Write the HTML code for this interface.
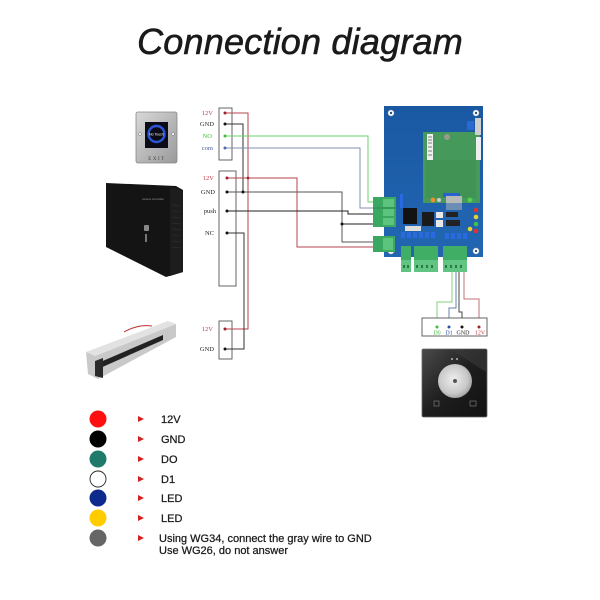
<!DOCTYPE html>
<html><head><meta charset="utf-8"><style>
html,body{margin:0;padding:0;background:#fff;}
svg{display:block;}
.t{font-family:"Liberation Serif",serif;font-size:6.5px;}
.lg{font-family:"Liberation Sans",sans-serif;font-size:11px;fill:#1a1a1a;stroke:#1a1a1a;stroke-width:0.25px;}
</style></head><body>
<svg width="600" height="600" viewBox="0 0 600 600" xmlns="http://www.w3.org/2000/svg">
<defs>
<linearGradient id="plate" x1="0" y1="0" x2="1" y2="1"><stop offset="0" stop-color="#d8d8d8"/><stop offset="1" stop-color="#9a9a9a"/></linearGradient>
<radialGradient id="pad" cx="0.45" cy="0.45" r="0.6"><stop offset="0" stop-color="#eeeeee"/><stop offset="0.7" stop-color="#c8c8c8"/><stop offset="1" stop-color="#9a9a9a"/></radialGradient>
<linearGradient id="rd" x1="0" y1="0" x2="1" y2="1"><stop offset="0" stop-color="#4a4a4a"/><stop offset="0.5" stop-color="#1e1e1e"/><stop offset="1" stop-color="#111"/></linearGradient>
<linearGradient id="bd" x1="0" y1="0" x2="0" y2="1"><stop offset="0" stop-color="#1a58a2"/><stop offset="1" stop-color="#2266b2"/></linearGradient>
</defs>

<!-- Title -->
<text x="300" y="54" text-anchor="middle" font-family="Liberation Sans, sans-serif" font-style="italic" font-size="36" fill="#1a1a1a" stroke="#1a1a1a" stroke-width="0.6" letter-spacing="0.2">Connection diagram</text>

<!-- Exit button -->
<rect x="136" y="112" width="41" height="51" rx="2" fill="url(#plate)" stroke="#888" stroke-width="0.8"/>
<rect x="145" y="122" width="23" height="26" fill="#0b0b18"/>
<circle cx="156.5" cy="134" r="8" fill="none" stroke="#2d55d8" stroke-width="2.4"/>
<text x="156.5" y="135.5" text-anchor="middle" font-family="Liberation Sans, sans-serif" font-size="3.5" fill="#fff">No Touch</text>
<circle cx="140" cy="134" r="1.5" fill="#eee" stroke="#777" stroke-width="0.5"/>
<circle cx="173" cy="134" r="1.5" fill="#eee" stroke="#777" stroke-width="0.5"/>
<text x="157" y="160" text-anchor="middle" font-family="Liberation Serif, serif" font-size="5" fill="#444" letter-spacing="1.5">EXIT</text>

<!-- Power box -->
<polygon points="106,183 176,186 183,190 183,272 166,277 106,247" fill="#141414"/>
<polygon points="170,187 183,190 183,272 170,276" fill="#1d1d1d"/>
<g stroke="#2c2c2c" stroke-width="0.8">
<line x1="172" y1="205" x2="181" y2="206"/><line x1="172" y1="211" x2="181" y2="212"/><line x1="172" y1="217" x2="181" y2="218"/><line x1="172" y1="223" x2="181" y2="224"/><line x1="172" y1="229" x2="181" y2="230"/><line x1="172" y1="235" x2="181" y2="236"/><line x1="172" y1="241" x2="181" y2="242"/><line x1="172" y1="247" x2="181" y2="248"/>
</g>
<text x="142" y="200" font-family="Liberation Sans, sans-serif" font-size="2.8" fill="#999">Access Controller</text>
<rect x="144" y="225" width="5" height="6" rx="1" fill="#888"/>
<rect x="145" y="234" width="2" height="8" fill="#777"/>

<!-- Magnetic lock -->
<polygon points="86,352 168,321 176,324 95,356" fill="#e2e2e2"/>
<polygon points="86,352 95,356 176,324 176,337 98,379 88,374" fill="#c9c9c9"/>
<polygon points="98,363 163,335 163,340 98,369" fill="#222"/>
<polygon points="95,361 103,358 103,378 95,376" fill="#2a2a2a"/>
<path d="M124,332 Q138,324 152,326" stroke="#c03030" stroke-width="1" fill="none"/>

<!-- Terminal boxes left -->
<rect x="219" y="108" width="13" height="52" fill="#fff" stroke="#555" stroke-width="0.9"/>
<rect x="219" y="171" width="17" height="115" fill="#fff" stroke="#555" stroke-width="0.9"/>
<rect x="219" y="321" width="13" height="38" fill="#fff" stroke="#555" stroke-width="0.9"/>

<g class="t" text-anchor="end">
<text x="213" y="115" fill="#c0404a">12V</text>
<text x="214" y="126" fill="#222">GND</text>
<text x="212" y="138" fill="#3cc03c">NO</text>
<text x="213" y="150" fill="#4a5a9a">com</text>
<text x="214" y="180" fill="#c0404a">12V</text>
<text x="215" y="194" fill="#222">GND</text>
<text x="216" y="213" fill="#222">push</text>
<text x="214" y="235" fill="#222">NC</text>
<text x="213" y="331" fill="#c0404a">12V</text>
<text x="214" y="351" fill="#222">GND</text>
</g>

<!-- Wires -->
<g fill="none" stroke-width="1">
<path d="M225,113 H248 V329 H225" stroke="#b8434c"/>
<path d="M225,124 H243 V192" stroke="#333"/>
<path d="M225,136 H368 V202 H378" stroke="#6ad06a"/>
<path d="M225,148 H360 V208 H378" stroke="#8090b0"/>
<path d="M227,178 H297 V247 H378" stroke="#b8434c"/>
<path d="M227,192 H342 V242 H378" stroke="#555"/>
<path d="M342,224 H378" stroke="#222"/>
<path d="M227,211 H348 V214 H378" stroke="#222"/>
<path d="M227,233 H244 V349 H225" stroke="#333"/>
<path d="M452,272 V302 H437 V327" stroke="#7fd07f"/>
<path d="M456,272 V308 H449 V327" stroke="#6b7fb0"/>
<path d="M459,272 V312 H462 V327" stroke="#444"/>
<path d="M464,272 V299 H479 V327" stroke="#c07078"/>
</g>
<g>
<circle cx="225" cy="113" r="1.5" fill="#a0202a"/>
<circle cx="225" cy="124" r="1.5" fill="#111"/>
<circle cx="225" cy="136" r="1.5" fill="#3cc03c"/>
<circle cx="225" cy="148" r="1.5" fill="#4a6aaa"/>
<circle cx="227" cy="178" r="1.5" fill="#a0202a"/>
<circle cx="227" cy="192" r="1.5" fill="#111"/>
<circle cx="227" cy="211" r="1.5" fill="#111"/>
<circle cx="227" cy="233" r="1.5" fill="#111"/>
<circle cx="225" cy="329" r="1.5" fill="#a0202a"/>
<circle cx="225" cy="349" r="1.5" fill="#111"/>
<circle cx="248" cy="178" r="1.4" fill="#a0202a"/>
<circle cx="243" cy="192" r="1.5" fill="#111"/>
<circle cx="342" cy="224" r="1.5" fill="#111"/>
</g>

<!-- Controller board -->
<rect x="384" y="106" width="99" height="151" fill="url(#bd)"/>
<rect x="423" y="132" width="57" height="71" fill="#45995a"/>
<rect x="426" y="160" width="50" height="38" fill="#3f8e52" opacity="0.7"/>
<rect x="427" y="134" width="6" height="26" fill="#eee"/>
<g stroke="#333" stroke-width="0.6"><line x1="428" y1="137" x2="432" y2="137"/><line x1="428" y1="140" x2="432" y2="140"/><line x1="428" y1="143" x2="432" y2="143"/><line x1="428" y1="147" x2="432" y2="147"/><line x1="428" y1="151" x2="432" y2="151"/><line x1="428" y1="155" x2="432" y2="155"/></g>
<rect x="476" y="137" width="5" height="23" fill="#eee"/>
<circle cx="447" cy="137" r="3" fill="#9a9a8a"/>
<rect x="467" y="121" width="7" height="9" fill="#2a6ad0"/>
<rect x="475" y="118" width="6" height="17" fill="#cfcfcf"/>
<rect x="443" y="193" width="17" height="4" fill="#2a62d0"/>
<rect x="446" y="196" width="16" height="14" fill="#b8b8b8"/>
<circle cx="433" cy="200" r="2.5" fill="#e89030"/>
<circle cx="439" cy="200" r="2" fill="#ccc"/>
<circle cx="470" cy="200" r="2.5" fill="#4ed04e"/>
<rect x="384" y="203" width="99" height="54" fill="#2164b0" opacity="0.5"/>
<rect x="400" y="194" width="3" height="14" fill="#2a6ae0"/>
<rect x="403" y="208" width="14" height="16" fill="#121212"/>
<rect x="422" y="212" width="12" height="14" fill="#1a1a1a"/>
<rect x="436" y="212" width="7" height="6" fill="#e8e8e8"/>
<rect x="436" y="220" width="7" height="7" fill="#e8e8e8"/>
<rect x="446" y="212" width="12" height="5" fill="#222"/>
<rect x="446" y="220" width="14" height="6" fill="#222"/>
<rect x="405" y="226" width="16" height="5" fill="#ddd"/>
<g fill="#2a6ae0">
<rect x="401" y="232" width="4" height="6"/><rect x="407" y="232" width="4" height="6"/><rect x="413" y="232" width="4" height="6"/><rect x="419" y="232" width="4" height="6"/><rect x="425" y="232" width="4" height="6"/><rect x="431" y="232" width="4" height="6"/>
<rect x="445" y="233" width="4" height="6"/><rect x="451" y="233" width="4" height="6"/><rect x="457" y="233" width="4" height="6"/><rect x="463" y="233" width="4" height="6"/>
</g>
<circle cx="476" cy="210" r="2.3" fill="#e03030"/>
<circle cx="476" cy="217" r="2.3" fill="#e8d030"/>
<circle cx="476" cy="224" r="2.3" fill="#40c050"/>
<circle cx="470" cy="229" r="2.3" fill="#e8d030"/>
<circle cx="476" cy="231" r="2.3" fill="#e03030"/>
<g fill="#fff" stroke="#bbb" stroke-width="0.5">
<circle cx="391" cy="113" r="3"/><circle cx="476" cy="113" r="3"/><circle cx="391" cy="251" r="3"/><circle cx="476" cy="251" r="3"/>
</g>
<g fill="#2a5080"><circle cx="391" cy="113" r="1.2"/><circle cx="476" cy="113" r="1.2"/><circle cx="391" cy="251" r="1.2"/><circle cx="476" cy="251" r="1.2"/></g>

<!-- Left green terminals -->
<rect x="373" y="197" width="23" height="30" fill="#3aa860"/>
<rect x="383" y="199" width="11" height="8" fill="#5cc47c"/>
<rect x="383" y="209" width="11" height="7" fill="#5cc47c"/>
<rect x="383" y="218" width="11" height="7" fill="#5cc47c"/>
<line x1="373" y1="208" x2="396" y2="208" stroke="#2a8048" stroke-width="0.8"/>
<rect x="373" y="236" width="22" height="16" fill="#3aa860"/>
<rect x="383" y="238" width="10" height="12" fill="#5cc47c"/>

<!-- Bottom green terminals -->
<rect x="401" y="246" width="10" height="26" fill="#40ae64"/>
<rect x="414" y="246" width="24" height="26" fill="#40ae64"/>
<rect x="443" y="246" width="24" height="26" fill="#40ae64"/>
<rect x="401" y="260" width="10" height="12" fill="#62c482"/>
<rect x="414" y="260" width="24" height="12" fill="#62c482"/>
<rect x="443" y="260" width="24" height="12" fill="#62c482"/>
<g fill="#2a7a44">
<rect x="403" y="265" width="2" height="3"/><rect x="407" y="265" width="2" height="3"/>
<rect x="416" y="265" width="2" height="3"/><rect x="421" y="265" width="2" height="3"/><rect x="426" y="265" width="2" height="3"/><rect x="431" y="265" width="2" height="3"/>
<rect x="445" y="265" width="2" height="3"/><rect x="450" y="265" width="2" height="3"/><rect x="455" y="265" width="2" height="3"/><rect x="460" y="265" width="2" height="3"/>
</g>

<!-- Reader terminal box -->
<rect x="422" y="318" width="65" height="18" fill="#fff" stroke="#555" stroke-width="0.9"/>
<circle cx="437" cy="327" r="1.5" fill="#3cc03c"/>
<circle cx="449" cy="327" r="1.5" fill="#3050a0"/>
<circle cx="462" cy="327" r="1.5" fill="#111"/>
<circle cx="479" cy="327" r="1.5" fill="#a0202a"/>
<g font-family="Liberation Serif, serif" font-size="6" text-anchor="middle">
<text x="437" y="334.5" fill="#4cc04c">D0</text>
<text x="449" y="334.5" fill="#3050a0">D1</text>
<text x="463" y="334.5" fill="#222">GND</text>
<text x="480" y="334.5" fill="#c0404a">12V</text>
</g>

<!-- Card reader -->
<rect x="422" y="349" width="65" height="68" rx="1.5" fill="url(#rd)" stroke="#666" stroke-width="0.8"/>
<polygon points="452,350 486,350 486,372" fill="#3a3a3a" opacity="0.6"/>
<circle cx="455" cy="381" r="17" fill="url(#pad)"/>
<circle cx="455" cy="381" r="2" fill="#555"/>
<circle cx="452" cy="359" r="0.9" fill="#ddd"/><circle cx="457" cy="359" r="0.9" fill="#ddd"/>
<rect x="434" y="401" width="5" height="5" fill="none" stroke="#888" stroke-width="0.6"/>
<rect x="470" y="401" width="6" height="5" fill="none" stroke="#888" stroke-width="0.6"/>

<!-- Legend -->
<circle cx="98" cy="419" r="8.5" fill="#ff1010"/>
<circle cx="98" cy="439" r="8.5" fill="#000"/>
<circle cx="98" cy="459" r="8.5" fill="#1f7a6a"/>
<circle cx="98" cy="479" r="8" fill="#fff" stroke="#222" stroke-width="0.9"/>
<circle cx="98" cy="498" r="8.5" fill="#0d2a8c"/>
<circle cx="98" cy="518" r="8.5" fill="#ffcc00"/>
<circle cx="98" cy="538" r="8.5" fill="#666"/>
<g fill="#d42020">
<polygon points="138,416 144,419 138,422"/>
<polygon points="138,436 144,439 138,442"/>
<polygon points="138,456 144,459 138,462"/>
<polygon points="138,476 144,479 138,482"/>
<polygon points="138,495 144,498 138,501"/>
<polygon points="138,515 144,518 138,521"/>
<polygon points="138,535 144,538 138,541"/>
</g>
<text class="lg" x="161" y="423">12V</text>
<text class="lg" x="161" y="443">GND</text>
<text class="lg" x="161" y="463">DO</text>
<text class="lg" x="161" y="483">D1</text>
<text class="lg" x="161" y="502">LED</text>
<text class="lg" x="161" y="522">LED</text>
<text class="lg" x="159" y="542">Using WG34, connect the gray wire to GND</text>
<text class="lg" x="159" y="554">Use WG26, do not answer</text>
</svg>
</body></html>
